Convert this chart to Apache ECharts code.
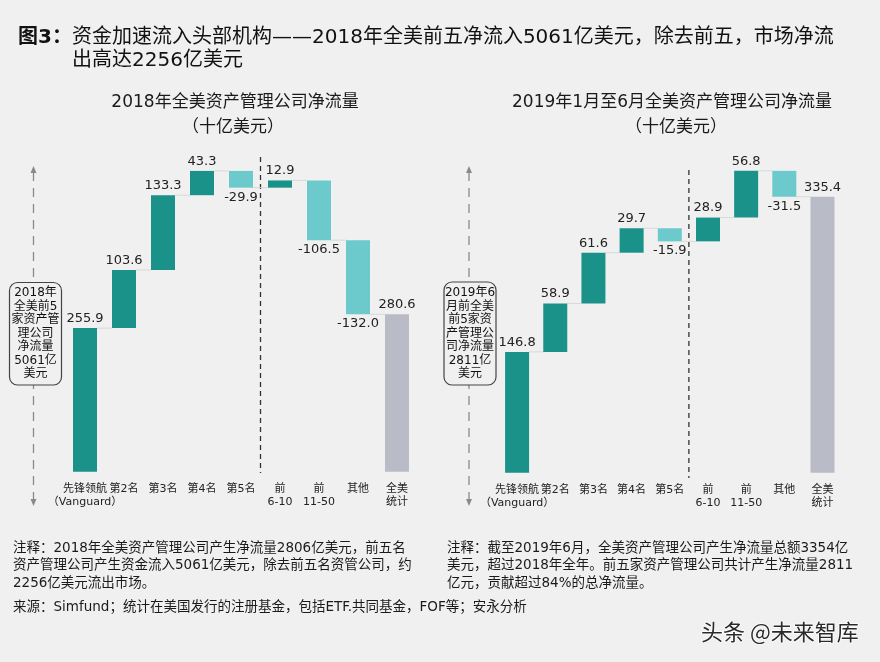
<!DOCTYPE html>
<html>
<head>
<meta charset="utf-8">
<script src="https://cdn.jsdelivr.net/npm/echarts@6/dist/echarts.min.js"></script>
<style>
  html, body { margin: 0; padding: 0; background: #f0f0f0; }
  #chart { width: 880px; height: 662px; }
</style>
</head>
<body>
<div id="chart"></div>
<script>
// 类目
const categories = ['先锋领航\n（Vanguard）', '第2名', '第3名', '第4名', '第5名', '前\n6-10', '前\n11-50', '其他', '全美\n统计'];
// 2018年净流量（十亿美元），最后一项为全美统计
const flows2018 = [255.9, 103.6, 133.3, 43.3, -29.9, 12.9, -106.5, -132.0, 280.6];
// 2019年1-6月净流量
const flows2019 = [146.8, 58.9, 61.6, 29.7, -15.9, 28.9, 56.8, -31.5, 335.4];
const boxText2018 = ['2018年', '全美前5', '家资产管', '理公司', '净流量', '5061亿', '美元'];
const boxText2019 = ['2019年6', '月前全美', '前5家资', '产管理公', '司净流量', '2811亿', '美元'];

const TEAL = '#1a9189', LIGHT = '#6dcacc', GREY = '#b9bcc6', BG = '#f0f0f0';
const FONT = "'DejaVu Sans', 'Noto Sans CJK SC', sans-serif";
const BAR_W = 24;

function waterfall(flows) {
  let run = 0;
  const base = [], size = [], ends = [];
  flows.forEach((v, i) => {
    if (i === flows.length - 1) {
      base.push(0); size.push(v); ends.push(v);
      return;
    }
    const next = run + v;
    base.push(Math.min(run, next));
    size.push(Math.abs(v));
    ends.push(next);
    run = next;
  });
  return { base, size, ends };
}

function barSeries(flows, idx) {
  const w = waterfall(flows);
  const last = flows.length - 1;
  return [
    {
      type: 'bar', stack: 's' + idx, xAxisIndex: idx, yAxisIndex: idx,
      barWidth: BAR_W, silent: true,
      itemStyle: { color: 'transparent' },
      data: w.base
    },
    {
      type: 'bar', stack: 's' + idx, xAxisIndex: idx, yAxisIndex: idx,
      barWidth: BAR_W,
      data: w.size.map((s, i) => ({
        value: s,
        itemStyle: { color: i === last ? GREY : (flows[i] >= 0 ? TEAL : LIGHT) },
        label: {
          show: true,
          position: flows[i] >= 0 ? 'top' : 'bottom',
          distance: 3,
          formatter: flows[i].toFixed(1),
          fontFamily: FONT, fontSize: 13, color: '#222'
        }
      }))
    },
    {
      // 连接线
      type: 'custom', xAxisIndex: idx, yAxisIndex: idx, silent: true, z: 1,
      data: w.ends.slice(0, -1).map((e, i) => [i, e]),
      renderItem: function (params, api) {
        const p1 = api.coord([api.value(0), api.value(1)]);
        const p2 = api.coord([api.value(0) + 1, api.value(1)]);
        return {
          type: 'line',
          shape: { x1: p1[0] + BAR_W / 2, y1: p1[1], x2: p2[0] - BAR_W / 2, y2: p2[1] },
          style: { stroke: '#d8d8d8', lineWidth: 1 }
        };
      }
    }
  ];
}

function xAxis(idx) {
  return {
    type: 'category', gridIndex: idx, data: categories,
    axisLine: { show: false }, axisTick: { show: false },
    axisLabel: { interval: 0, margin: 11, fontFamily: FONT, fontSize: 11, lineHeight: 13, color: '#222' }
  };
}

function yAxis(idx, max) {
  return { type: 'value', gridIndex: idx, min: 0, max: max, show: false, splitLine: { show: false } };
}

const myChart = echarts.init(document.getElementById('chart'));
myChart.setOption({
  backgroundColor: BG,
  animation: false,
  grid: [
    { left: 65.5, right: 463.5, top: 157.5, bottom: 190.3 },
    { left: 498, right: 38.4, top: 143.5, bottom: 189.3 }
  ],
  xAxis: [xAxis(0), xAxis(1)],
  yAxis: [yAxis(0, 560), yAxis(1, 400)],
  series: [...barSeries(flows2018, 0), ...barSeries(flows2019, 1)]
});

// 分隔虚线位置由坐标轴换算
function midX(idx) {
  const a = myChart.convertToPixel({ xAxisIndex: idx }, 4);
  const b = myChart.convertToPixel({ xAxisIndex: idx }, 5);
  return (a + b) / 2;
}

function arrowGroup(x, y1, y2) {
  return [
    { type: 'line', shape: { x1: x, y1: y1 + 6, x2: x, y2: y2 - 6 },
      style: { stroke: '#8a8a8a', lineWidth: 1.3, lineDash: [9, 7] } },
    { type: 'polygon', shape: { points: [[x, y1], [x - 3, y1 + 7], [x + 3, y1 + 7]] }, style: { fill: '#8a8a8a' } },
    { type: 'polygon', shape: { points: [[x, y2], [x - 3, y2 - 7], [x + 3, y2 - 7]] }, style: { fill: '#8a8a8a' } }
  ];
}

function box(x, y, w, h, lines) {
  return [
    { type: 'rect', shape: { x: x, y: y, width: w, height: h, r: 8 },
      style: { fill: BG, stroke: '#444', lineWidth: 1.2 }, z: 10 },
    { type: 'text', x: x + w / 2, y: y + h / 2, z: 11,
      style: { text: lines.join('\n'), fontFamily: FONT, fontSize: 12, lineHeight: 13.5,
        fill: '#111', align: 'center', verticalAlign: 'middle' } }
  ];
}

function txt(x, y, text, size, extra) {
  return Object.assign({ type: 'text', x: x, y: y,
    style: Object.assign({ text: text, fontFamily: FONT, fontSize: size, fill: '#1a1a1a', verticalAlign: 'middle' }, extra || {}) });
}

const noteL = [
  '注释：2018年全美资产管理公司产生净流量2806亿美元，前五名',
  '资产管理公司产生资金流入5061亿美元，除去前五名资管公司，约',
  '2256亿美元流出市场。'
];
const noteR = [
  '注释：截至2019年6月，全美资产管理公司产生净流量总额3354亿',
  '美元，超过2018年全年。前五家资产管理公司共计产生净流量2811',
  '亿元，贡献超过84%的总净流量。'
];

const lx = midX(0), rx = midX(1);
const elements = [
  txt(18, 38, '图3：', 20, { fontWeight: 'bold', fill: '#111' }),
  txt(72, 38, '资金加速流入头部机构——2018年全美前五净流入5061亿美元，除去前五，市场净流', 20, { fill: '#111' }),
  txt(72, 61, '出高达2256亿美元', 20, { fill: '#111' }),
  txt(235, 103, '2018年全美资产管理公司净流量', 17, { align: 'center' }),
  txt(233, 128, '（十亿美元）', 17, { align: 'center' }),
  txt(672, 103, '2019年1月至6月全美资产管理公司净流量', 17, { align: 'center' }),
  txt(676, 128, '（十亿美元）', 17, { align: 'center' }),
  { type: 'line', shape: { x1: lx, y1: 157, x2: lx, y2: 473 }, style: { stroke: '#333', lineWidth: 1.3, lineDash: [5, 4] } },
  { type: 'line', shape: { x1: rx, y1: 170, x2: rx, y2: 478 }, style: { stroke: '#333', lineWidth: 1.3, lineDash: [5, 4] } },
  ...arrowGroup(33.5, 166, 506),
  ...arrowGroup(469, 166, 506),
  ...box(9.5, 282.5, 52, 102.5, boxText2018),
  ...box(444, 282, 52, 103, boxText2019),
  ...noteL.map((t, i) => txt(13, 548 + i * 17.5, t, 13.5)),
  ...noteR.map((t, i) => txt(447, 548 + i * 17.5, t, 13.5)),
  txt(13, 607, '来源：Simfund；统计在美国发行的注册基金，包括ETF.共同基金，FOF等；安永分析', 13.5),
  txt(701, 632, '头条 @未来智库', 22, { fill: '#2a2a2a', stroke: '#ffffff', lineWidth: 1.5, fontFamily: "'Noto Sans CJK SC', sans-serif" })
];

myChart.setOption({ graphic: { elements: elements } });
</script>
</body>
</html>
